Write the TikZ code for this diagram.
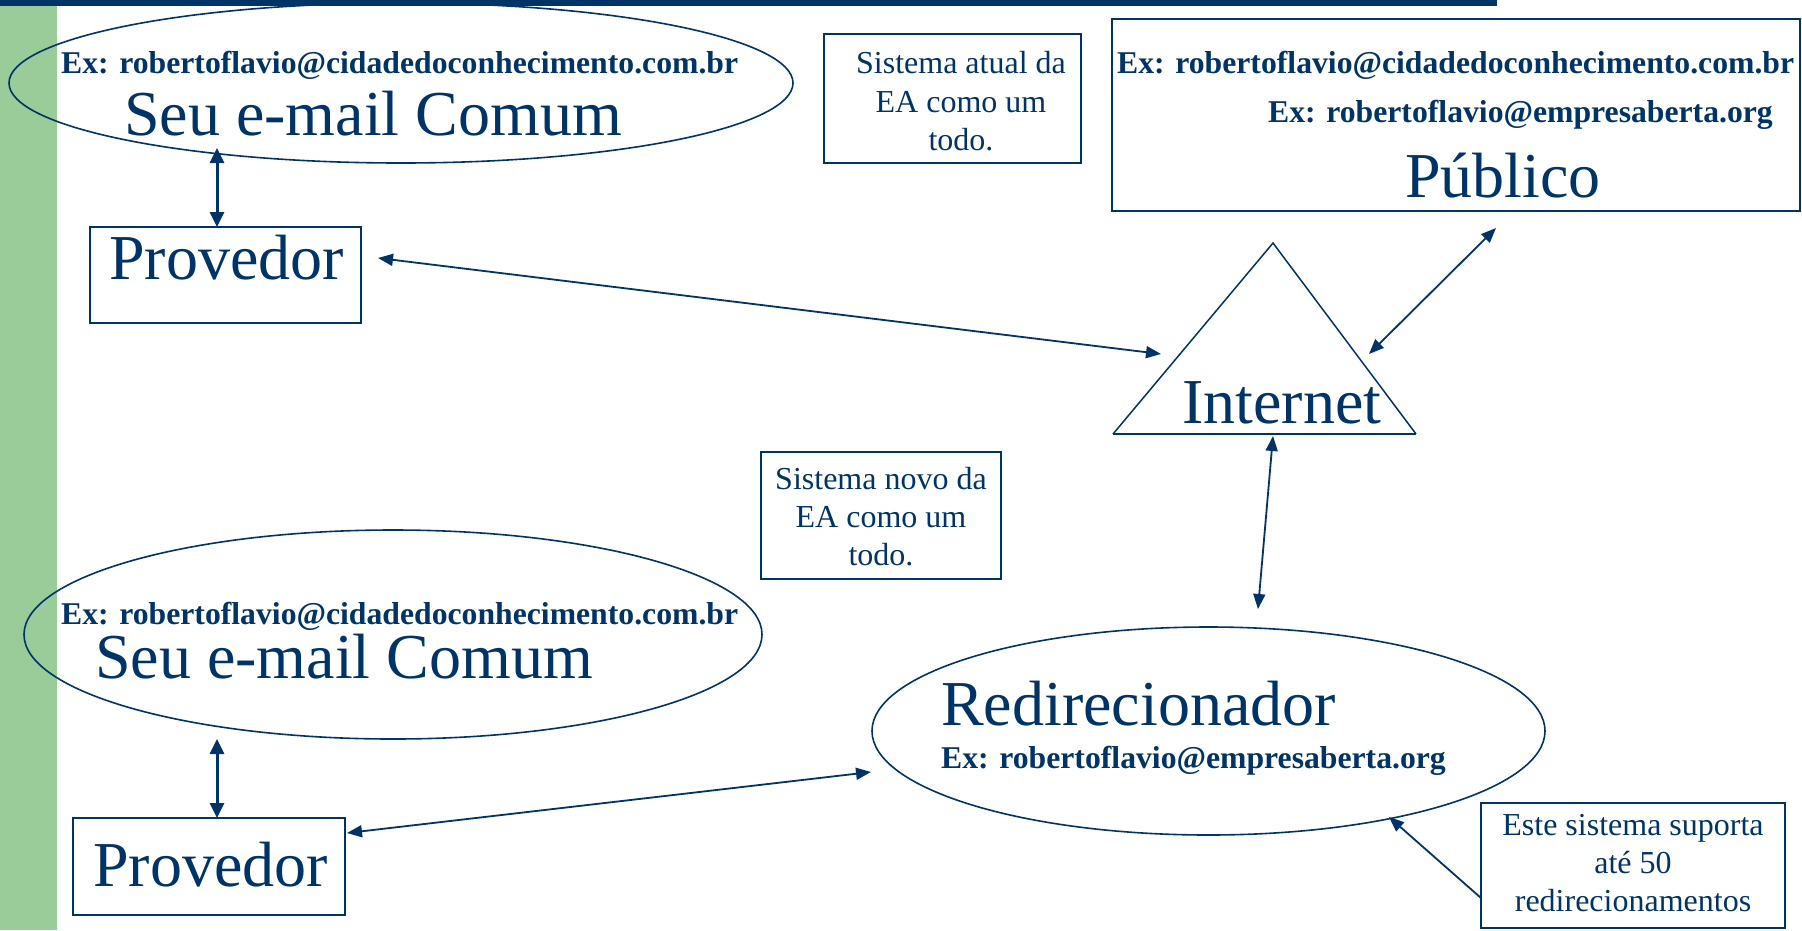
\documentclass[tikz,border=0pt]{standalone}
\usepackage{fontspec}
\setmainfont{Liberation Serif}
\usetikzlibrary{arrows.meta,shapes.geometric}
\definecolor{navy}{HTML}{003366}
\definecolor{leaf}{HTML}{99CC99}
\tikzset{
  big/.style={font=\fontsize{64}{70}\selectfont, text=navy, inner sep=0pt, anchor=base west},
  mail/.style={font=\bfseries\fontsize{31.7}{36}\selectfont, text=navy, inner sep=0pt, anchor=base west},
  small/.style={font=\fontsize{32}{38}\selectfont, text=navy, inner sep=0pt, anchor=base},
  boxnode/.style={draw=navy, line width=2.4pt, rectangle, inner sep=0pt, outer sep=0pt},
  ell/.style={draw=navy, line width=1.6pt, ellipse, inner sep=0pt, outer sep=0pt},
  thinarr/.style={draw=navy, line width=1.8pt, {Triangle[length=15pt,width=12pt]}-{Triangle[length=15pt,width=12pt]}},
  onearr/.style={draw=navy, line width=1.8pt, -{Triangle[length=15pt,width=12pt]}},
  thickarr/.style={draw=navy, line width=3pt, {Triangle[length=15pt,width=14pt]}-{Triangle[length=15pt,width=14pt]}},
}
\begin{document}
\begin{tikzpicture}[x=1pt,y=-1pt]
\useasboundingbox (0,0) rectangle (1802,930);
% background decorations
\fill[leaf] (0,6) rectangle (57,930);
\fill[navy] (0,0) rectangle (1497,6);

% ellipses
\node[ell, minimum width=784pt, minimum height=160pt] (ell1) at (401,83) {};
\node[ell, minimum width=738pt, minimum height=209pt] (ell2) at (393,634.5) {};
\node[ell, minimum width=673pt, minimum height=208pt] (redir) at (1208.5,731) {};

% boxes
\node[boxnode, minimum width=271pt, minimum height=96pt] (prov1) at (225.5,275) {};
\node[boxnode, minimum width=257pt, minimum height=129pt] (atual) at (952.5,98.5) {};
\node[boxnode, minimum width=688pt, minimum height=192pt] (publico) at (1456,115) {};
\node[boxnode, minimum width=240pt, minimum height=127pt] (novo) at (881,515.5) {};
\node[boxnode, minimum width=272pt, minimum height=97pt] (prov2) at (209,866.5) {};
\node[boxnode, minimum width=304pt, minimum height=125pt] (este) at (1633,865.5) {};

% triangle
\coordinate (apex) at (1273,243);
\coordinate (tbl) at (1113,434);
\coordinate (tbr) at (1416,434);
\draw[navy, line width=1.5pt, line join=miter] (tbl) -- (apex) -- (tbr);
\draw[navy, line width=2.6pt] (tbl) -- (tbr);

% texts
\node[mail] (t1mail) at (61,73) {Ex: robertoflavio@cidadedoconhecimento.com.br};
\node[big] (t1main) at (124,135) {Seu e-mail Comum};
\node[big] (t1prov) at (109,279) {Provedor};

\node[small] (ta1) at (961,73) {Sistema atual da};
\node[small] (ta2) at (961,112) {EA como um};
\node[small] (ta3) at (961,150) {todo.};

\node[mail] (tpmail1) at (1117,73) {Ex: robertoflavio@cidadedoconhecimento.com.br};
\node[mail] (tpmail2) at (1268,122) {Ex: robertoflavio@empresaberta.org};
\node[big] (tpub) at (1405,197) {Público};

\node[big] (inet) at (1182,423) {Internet};

\node[small] (tn1) at (881,489) {Sistema novo da};
\node[small] (tn2) at (881,527) {EA como um};
\node[small] (tn3) at (881,565) {todo.};

\node[mail] (t2mail) at (61,624) {Ex: robertoflavio@cidadedoconhecimento.com.br};
\node[big] (t2main) at (95,678) {Seu e-mail Comum};
\node[big] (t2prov) at (93,886) {Provedor};

\node[big] (tredir) at (941,725) {Redirecionador};
\node[mail] (trmail) at (941,768) {Ex: robertoflavio@empresaberta.org};

\node[small] (te1) at (1633,835) {Este sistema suporta};
\node[small] (te2) at (1633,873) {até 50};
\node[small] (te3) at (1633,911) {redirecionamentos};

% connector end points
\coordinate (a1s) at (217,148);
\coordinate (a1e) at (217,227);
\coordinate (a2s) at (378,258);
\coordinate (a2e) at (1161,354);
\coordinate (a3s) at (1369,354);
\coordinate (a3e) at (1496,228);
\coordinate (a4s) at (1273,436);
\coordinate (a4e) at (1258,609);
\coordinate (a5s) at (217,739);
\coordinate (a5e) at (217,818);
\coordinate (a6s) at (347,833);
\coordinate (a6e) at (871,772);
\coordinate (a7s) at (1481,898);
\coordinate (a7e) at (1389,817);

\draw[thickarr] (a1s) -- (a1e);
\draw[thinarr] (a2s) -- (a2e);
\draw[thinarr] (a3s) -- (a3e);
\draw[thinarr] (a4s) -- (a4e);
\draw[thickarr] (a5s) -- (a5e);
\draw[thinarr] (a6s) -- (a6e);
\draw[onearr] (a7s) -- (a7e);
\end{tikzpicture}
\end{document}
